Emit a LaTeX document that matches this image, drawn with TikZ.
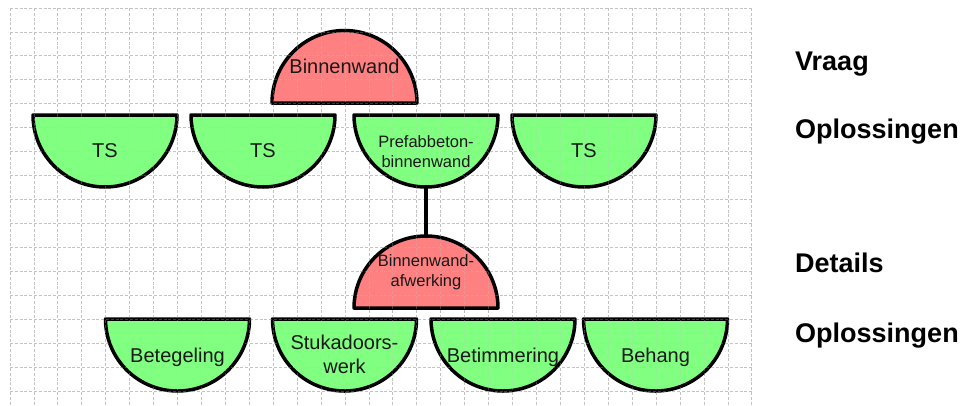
\documentclass[tikz,border=0pt]{standalone}
\usepackage{fontspec}
\setmainfont{Liberation Sans}
\definecolor{qred}{RGB}{255,128,128}
\definecolor{agreen}{RGB}{128,255,128}
\definecolor{gridgray}{RGB}{195,195,195}
\begin{document}
\begin{tikzpicture}[x=1pt,y=-1pt,
  shapeline/.style={draw=black, line width=3.5pt, line join=round},
  question/.style={shapeline, fill=qred},
  answer/.style={shapeline, fill=agreen},
  lbl/.style={font=\fontsize{20}{24}\selectfont, align=center, text=black!90, inner sep=0pt},
  smalllbl/.style={font=\fontsize{16.5}{20}\selectfont, align=center, text=black!90, inner sep=0pt},
  levellbl/.style={font=\fontsize{27}{30}\selectfont\bfseries, anchor=base west, inner sep=0pt},
  gridline/.style={gridgray, line width=0.8pt, dash pattern=on 3pt off 1.8pt},
  link/.style={draw=black, line width=4pt}]

% canvas
\path[fill=white] (0,0) rectangle (964,405);
\useasboundingbox (0,0) rectangle (964,405);

% background grid
\newcommand\gridlines[1]{%
  \foreach \k in {0,...,31}
    \draw[gridline,#1] ({10+23.93*\k},8) -- ({10+23.93*\k},405);
  \foreach \k in {0,...,16}
    \draw[gridline,#1] (10,{8+23.94*\k}) -- (751.8,{8+23.94*\k});}
\gridlines{}

% dome: flat side down;  bowl: flat side up  (#2 = centre x, #3 = flat side y, #4 = radius)
\newcommand\domeshape[4]{\path[#1] ({#2-#4},#3) arc[start angle=180, end angle=0, radius=#4pt] -- cycle;}
\newcommand\bowlshape[4]{\path[#1] ({#2-#4},#3) arc[start angle=180, end angle=360, radius=#4pt] -- cycle;}

% question: Binnenwand
\domeshape{question}{344.5}{103}{72.5}

% solutions level 1
\bowlshape{answer}{105}{115}{72}
\bowlshape{answer}{263}{115}{72}
\bowlshape{answer}{426}{115}{72}
\bowlshape{answer}{584}{115}{72}
\coordinate (s3bot) at (426,187);

% detail question
\domeshape{question}{426}{308}{72}
\coordinate (d1top) at (426,236);

% solutions level 2
\bowlshape{answer}{177.5}{319}{72}
\bowlshape{answer}{344.5}{319}{72}
\bowlshape{answer}{503}{319}{72}
\bowlshape{answer}{655.5}{319}{72}

% the grid shows faintly through the shapes
\gridlines{opacity=0.3}

\draw[link] (s3bot) -- (d1top);

% labels
\node[lbl, anchor=base] (q1) at (344.5,73) {Binnenwand};
\node[lbl, anchor=base] (s1) at (105,157) {TS};
\node[lbl, anchor=base] (s2) at (263,157) {TS};
\node[smalllbl] (s3) at (426,151.5) {Prefabbeton-\\binnenwand};
\node[lbl, anchor=base] (s4) at (584,157) {TS};
\node[smalllbl] (d1) at (426,272) {Binnenwand-\\afwerking};
\node[lbl, anchor=base] (t1) at (177.5,362) {Betegeling};
\node[lbl] (t2) at (344.5,354) {Stukadoors-\\werk};
\node[lbl, anchor=base] (t3) at (503,362) {Betimmering};
\node[lbl, anchor=base] (t4) at (655.5,362) {Behang};

% level captions
\node[levellbl] (c1) at (795,70) {Vraag};
\node[levellbl] (c2) at (795,138) {Oplossingen};
\node[levellbl] (c3) at (795,272) {Details};
\node[levellbl] (c4) at (795,342) {Oplossingen};
\end{tikzpicture}
\end{document}
